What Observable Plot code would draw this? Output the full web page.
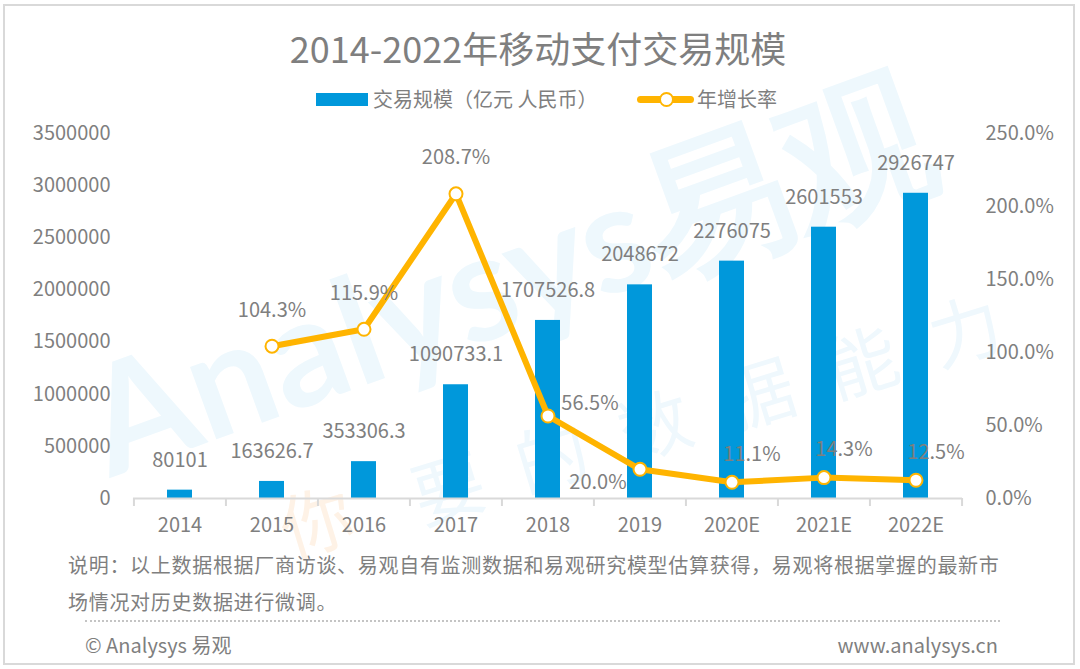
<!DOCTYPE html>
<html>
<head>
<meta charset="utf-8">
<script src="https://cdn.jsdelivr.net/npm/d3@7"></script>
<script src="https://cdn.jsdelivr.net/npm/@observablehq/plot@0.6"></script>
<style>
  html, body { margin: 0; padding: 0; background: #fff; }
  body { width: 1080px; height: 669px; position: relative; overflow: hidden;
         font-family: "Noto Sans CJK SC", "Noto Sans", sans-serif; color: #7f7f7f; }
  #frame { position: absolute; left: 3px; top: 4px; width: 1072px; height: 661px;
           box-sizing: border-box; border: 2px solid #d9d9d9; }
  #title { position: absolute; left: 0; top: 25px; width: 1076px; text-align: center;
           font-size: 36px; line-height: 44px; color: #7f7f7f; white-space: nowrap; }
  .legtext { position: absolute; font-size: 20px; line-height: 24px; top: 87px; white-space: nowrap; }
  #sw1 { position: absolute; left: 316px; top: 93px; width: 52px; height: 13px; background: #0098db; }
  #sw2 { position: absolute; left: 637px; top: 96px; width: 57px; height: 7px; background: #ffb400; border-radius: 4px; }
  #sw2dot { position: absolute; left: 659px; top: 92px; width: 11px; height: 11px; border-radius: 50%;
            background: #fff; border: 2px solid #ffb400; }
  #chart { position: absolute; left: 0; top: 110px; }
  #note { position: absolute; left: 68px; top: 546px; width: 960px; font-size: 20px; line-height: 37px;
          letter-spacing: 0.7px; white-space: nowrap; }
  #dots { position: absolute; left: 85px; top: 620px; width: 915px; height: 0; border-top: 2px dotted #c4c4c4; }
  #foot1 { position: absolute; left: 85px; top: 632px; font-size: 20px; line-height: 26px; white-space: nowrap; }
  #foot2 { position: absolute; right: 82px; top: 632px; font-size: 20px; line-height: 26px; white-space: nowrap; }
</style>
</head>
<body>
<div id="frame"></div>
<div id="title">2014-2022年移动支付交易规模</div>
<div id="sw1"></div>
<div class="legtext" style="left:373px">交易规模（亿元 人民币）</div>
<div id="sw2"></div><div id="sw2dot"></div>
<div class="legtext" style="left:697px">年增长率</div>
<div id="chart"></div>
<div id="note">说明：以上数据根据厂商访谈、易观自有监测数据和易观研究模型估算获得，易观将根据掌握的最新市<br>场情况对历史数据进行微调。</div>
<div id="dots"></div>
<div id="foot1">© Analysys 易观</div>
<div id="foot2">www.analysys.cn</div>
<script>
// ---- data ----
const years = ["2014", "2015", "2016", "2017", "2018", "2019", "2020E", "2021E", "2022E"];
const volume = [80101, 163626.7, 353306.3, 1090733.1, 1707526.8, 2048672, 2276075, 2601553, 2926747];
const growth = [null, 104.3, 115.9, 208.7, 56.5, 20.0, 11.1, 14.3, 12.5];
const leftTicks = [0, 500000, 1000000, 1500000, 2000000, 2500000, 3000000, 3500000];
const rightTicks = [0, 50, 100, 150, 200, 250];
const growthLabelSpot = [null, "above", "above", "above", "right", "left", "upright", "upright", "upright"];

// ---- layout ----
const W = 1080, H = 433, ML = 133, MR = 118, MT = 23, MB = 45;
const yMax = 3500000, rMax = 250;
const toY = r => r / rMax * yMax;
const step = (W - ML - MR) / years.length;
const plotH = H - MT - MB;
const tickLen = 8 * yMax / plotH;
const gray = "#7f7f7f", blue = "#0098db", orange = "#ffb400", axisGray = "#d9d9d9";
const spotOffset = { above: [0, -36], right: [42, -12], left: [-42, 13], upright: [20, -28] };

const rows = years.map((year, i) => ({ year, volume: volume[i], growth: growth[i], spot: growthLabelSpot[i] }));
const lineRows = rows.filter(d => d.growth != null);

const growthText = Object.entries(spotOffset).map(([spot, [dx, dy]]) =>
  Plot.text(lineRows.filter(d => d.spot === spot), {
    x: "year", y: d => toY(d.growth), text: d => d.growth.toFixed(1) + "%",
    dx, dy, fontSize: 20, fill: gray
  })
);

const chart = Plot.plot({
  width: W, height: H,
  marginLeft: ML, marginRight: MR, marginTop: MT, marginBottom: MB,
  style: { fontFamily: '"Noto Sans CJK SC", sans-serif', fontSize: "20px", color: gray, background: "transparent", overflow: "visible" },
  x: { domain: years, paddingInner: 0.73, paddingOuter: 0.365, label: null },
  y: { domain: [0, yMax], label: null },
  marks: [
    Plot.axisY(leftTicks, { anchor: "left", tickSize: 0, tickPadding: 23, tickFormat: d => String(d), fontSize: 20, fill: gray, label: null }),
    Plot.axisY(rightTicks.map(toY), { anchor: "right", tickSize: 0, tickPadding: 23, tickFormat: d => (d / yMax * rMax).toFixed(1) + "%", fontSize: 20, fill: gray, label: null, textAnchor: "start" }),
    Plot.axisX({ tickSize: 0, tickPadding: 19, fontSize: 20, fill: gray, label: null }),
    Plot.barY(rows, { x: "year", y: "volume", fill: blue }),
    Plot.ruleY([0], { stroke: axisGray, strokeWidth: 2 }),
    Plot.ruleX(years, { x: d => d, y1: 0, y2: -tickLen, dx: -step / 2, stroke: axisGray, strokeWidth: 2 }),
    Plot.ruleX([years[years.length - 1]], { x: d => d, y1: 0, y2: -tickLen, dx: step / 2, stroke: axisGray, strokeWidth: 2 }),
    Plot.text(rows, { x: "year", y: "volume", text: d => String(d.volume), dy: -30, fontSize: 20, fill: gray }),
    Plot.line(lineRows, { x: "year", y: d => toY(d.growth), stroke: orange, strokeWidth: 6, strokeLinejoin: "round", strokeLinecap: "round" }),
    Plot.dot(lineRows, { x: "year", y: d => toY(d.growth), r: 6.5, fill: "#fff", stroke: orange, strokeWidth: 2 }),
    ...growthText
  ]
});

// faint watermark behind the marks
const ns = "http://www.w3.org/2000/svg";
const wm = document.createElementNS(ns, "g");
wm.setAttribute("text-anchor", "start");
function wmText(str, x, y, rot, size, fill, spacing, family, weight) {
  const t = document.createElementNS(ns, "text");
  t.setAttribute("transform", `translate(${x},${y}) rotate(${rot})`);
  t.setAttribute("font-size", size);
  t.setAttribute("fill", fill);
  t.setAttribute("font-family", family);
  t.setAttribute("font-weight", weight);
  t.setAttribute("text-anchor", "start");
  if (spacing) t.setAttribute("letter-spacing", spacing);
  t.textContent = str;
  wm.appendChild(t);
}
wmText("Analysys易观", 110, 368, -20, 150, "#eef8fd", 0, "Lato, sans-serif", 700);
wmText("你", 290, 448, -17, 72, "#fef2e6", 0, '"Noto Sans CJK SC", sans-serif', 400);
wmText("要的数据能力", 422, 415, -17, 72, "#eff8fd", "36", '"Noto Sans CJK SC", sans-serif', 400);
chart.insertBefore(wm, chart.firstChild);

document.getElementById("chart").appendChild(chart);
</script>
</body>
</html>
